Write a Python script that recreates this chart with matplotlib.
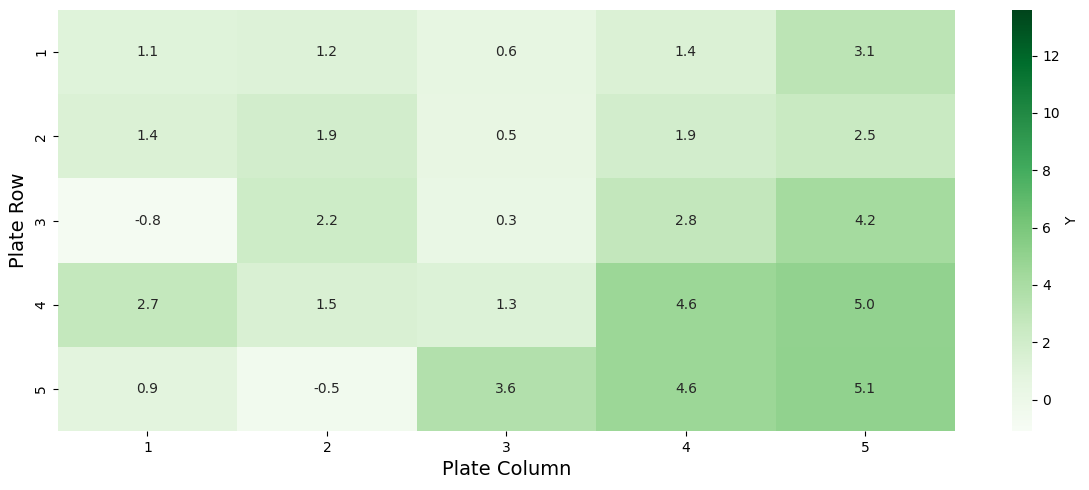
import numpy as np
import pandas as pd
import matplotlib
matplotlib.use("Agg")
import matplotlib.pyplot as plt
import seaborn as sns

rows = [1, 2, 3, 4, 5]
cols = [1, 2, 3, 4, 5]
row1 = [1.1, 1.2, 0.6, 1.4, 3.1]
row2 = [1.4, 1.9, 0.5, 1.9, 2.5]
row3 = [-0.8, 2.2, 0.3, 2.8, 4.2]
row4 = [2.7, 1.5, 1.3, 4.6, 5.0]
row5 = [0.9, -0.5, 3.6, 4.6, 5.1]

df = pd.DataFrame([row1, row2, row3, row4, row5], index=rows, columns=cols)

fig = plt.figure(figsize=(10.89, 4.9), dpi=100)
ax = fig.add_axes([0.053, 0.12, 0.824, 0.86])
cax = fig.add_axes([0.929, 0.12, 0.019, 0.86])
sns.heatmap(df, ax=ax, cbar_ax=cax, cmap="Greens", vmin=-1.1, vmax=13.6,
            annot=True, fmt=".1f", annot_kws={"size": 10, "color": "#262626"},
            cbar_kws={"label": "Y"})
ax.set_xlabel("Plate Column", fontsize=14)
ax.set_ylabel("Plate Row", fontsize=14)
ax.tick_params(labelsize=10)
cax.tick_params(labelsize=10)
fig.savefig("out.png", dpi=100)
